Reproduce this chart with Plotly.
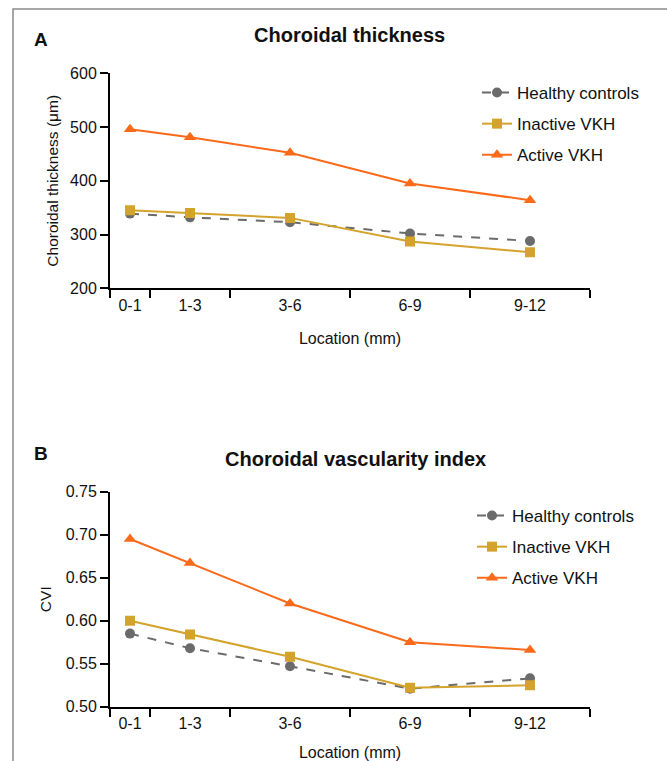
import plotly.graph_objects as go

# ---- data ----
locations = ["0-1", "1-3", "3-6", "6-9", "9-12"]
bin_edges = [0, 1, 3, 6, 9, 12]
series_names = ["Healthy controls", "Inactive VKH", "Active VKH"]

ct_healthy = [339, 332, 323, 302, 288]
ct_inactive = [345, 340, 331, 287, 267]
ct_active = [496, 481, 452, 395, 364]

cvi_healthy = [0.585, 0.568, 0.547, 0.521, 0.533]
cvi_inactive = [0.600, 0.584, 0.558, 0.522, 0.525]
cvi_active = [0.695, 0.667, 0.620, 0.575, 0.566]

ct_ticks = [200, 300, 400, 500, 600]
cvi_ticks = [0.50, 0.55, 0.60, 0.65, 0.70, 0.75]

# ---- styles ----
colors = ["#6b6b6b", "#D4A32C", "#FA6A1A"]
symbols = ["circle", "square", "triangle-up"]
dashes = ["dash", "solid", "solid"]
FONT = "Liberation Sans, Arial, Helvetica, sans-serif"

mids = [(bin_edges[i] + bin_edges[i + 1]) / 2 for i in range(len(locations))]

W, H = 667, 761
def fy(px):
    return 1 - px / H
def fx(px):
    return px / W

fig = go.Figure()

panels = [
    ("x", "y", "legend", [ct_healthy, ct_inactive, ct_active]),
    ("x2", "y2", "legend2", [cvi_healthy, cvi_inactive, cvi_active]),
]
for xa, ya, lg, vals in panels:
    for i, name in enumerate(series_names):
        fig.add_trace(go.Scatter(
            x=mids, y=vals[i], name=name, mode="lines+markers",
            xaxis=xa, yaxis=ya, legend=lg, legendgroup=lg + str(i),
            line=dict(color=colors[i], width=2, dash=dashes[i]),
            marker=dict(color=colors[i], symbol=symbols[i], size=10 if i != 2 else 11),
        ))

TXT = "#111"
xaxis_common = dict(
    range=[bin_edges[0], bin_edges[-1]],
    tickmode="array", tickvals=mids, ticktext=locations,
    ticks="outside", ticklen=1, tickcolor="rgba(0,0,0,0)",
    minor=dict(tickmode="array", tickvals=bin_edges, ticks="outside",
               ticklen=8, tickwidth=2, tickcolor="black"),
    showline=True, linecolor="black", linewidth=2,
    showgrid=False, zeroline=False, automargin=False,
    tickfont=dict(size=16, color=TXT, family=FONT),
    title=dict(text="Location (mm)", font=dict(size=16, color=TXT, family=FONT), standoff=20),
)
yaxis_common = dict(
    ticks="outside", ticklen=8, tickwidth=2, tickcolor="black",
    showline=True, linecolor="black", linewidth=2,
    showgrid=False, zeroline=False, automargin=False,
    tickfont=dict(size=16, color=TXT, family=FONT),
)

legend_common = dict(
    font=dict(size=17, color=TXT, family=FONT),
    bgcolor="rgba(0,0,0,0)", tracegroupgap=6,
    xanchor="left", yanchor="top", itemwidth=30,
)

fig.update_layout(
    width=W, height=H,
    margin=dict(l=0, r=0, t=0, b=0, autoexpand=False),
    paper_bgcolor="white", plot_bgcolor="white",
    font=dict(family=FONT, color=TXT),
    xaxis=dict(domain=[fx(110), fx(590)], anchor="y", **xaxis_common),
    xaxis2=dict(domain=[fx(110), fx(590)], anchor="y2", **xaxis_common),
    yaxis=dict(domain=[fy(288.3), fy(73.3)], anchor="x", range=[ct_ticks[0], ct_ticks[-1]],
               tickvals=ct_ticks,
               title=dict(text="Choroidal thickness (μm)", font=dict(size=15.5, color=TXT, family=FONT), standoff=8),
               **yaxis_common),
    yaxis2=dict(domain=[fy(706.7), fy(491.7)], anchor="x2", range=[cvi_ticks[0], cvi_ticks[-1]],
                tickvals=cvi_ticks, tickformat=".2f",
                title=dict(text="CVI", font=dict(size=15.5, color=TXT, family=FONT), standoff=10),
                **yaxis_common),
    legend=dict(x=fx(477), y=fy(75), **legend_common),
    legend2=dict(x=fx(472), y=fy(498), **legend_common),
    showlegend=True,
    shapes=[dict(type="rect", xref="paper", yref="paper",
                 x0=fx(13), x1=1.2, y0=-0.2, y1=fy(9),
                 line=dict(color="#8a8a8a", width=1.5), fillcolor="rgba(0,0,0,0)")],
    annotations=[
        dict(text="<b>A</b>", x=fx(32), y=fy(39), xref="paper", yref="paper",
             xanchor="left", yanchor="middle", showarrow=False,
             font=dict(size=19, color=TXT, family=FONT)),
        dict(text="<b>Choroidal thickness</b>", x=fx(350), y=fy(35), xref="paper", yref="paper",
             xanchor="center", yanchor="middle", showarrow=False,
             font=dict(size=20, color=TXT, family=FONT)),
        dict(text="<b>B</b>", x=fx(32), y=fy(453), xref="paper", yref="paper",
             xanchor="left", yanchor="middle", showarrow=False,
             font=dict(size=19, color=TXT, family=FONT)),
        dict(text="<b>Choroidal vascularity index</b>", x=fx(355), y=fy(459), xref="paper", yref="paper",
             xanchor="center", yanchor="middle", showarrow=False,
             font=dict(size=20, color=TXT, family=FONT)),
    ],
)

fig.write_html("out.html", config={"displayModeBar": False},
               post_script="document.body.style.margin='0';document.body.style.overflow='hidden';")
